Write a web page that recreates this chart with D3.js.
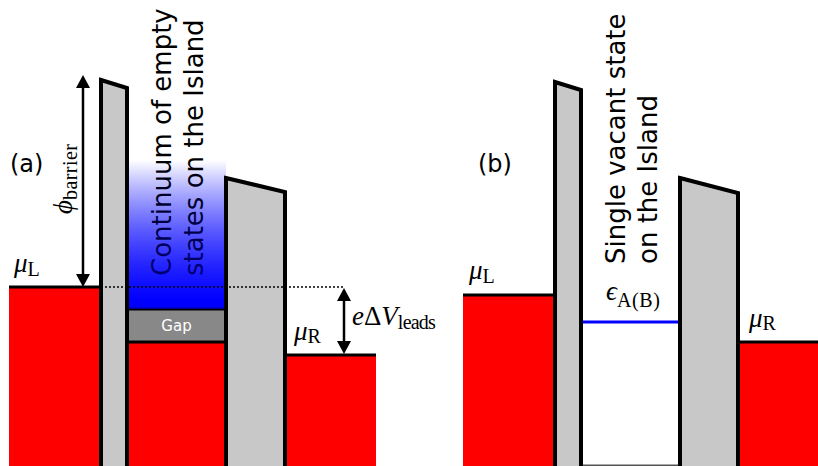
<!DOCTYPE html>
<html><head><meta charset="utf-8">
<script src="https://cdn.jsdelivr.net/npm/d3@7"></script>
<style>body{margin:0;background:#fff}svg{display:block}</style>
</head><body>
<script>
// ---- data (position units horizontally, energy units vertically) ----
const panelLabels = ["(a)", "(b)"];
const panelLabelX = [10, 478];
const leftLeadX = [[9, 101], [463, 555]];
const muL = [179, 171];
const leftBarrierX = [[101, 127], [555, 581]];
const leftBarrierTop = [[386, 378], [384, 376]];
const rightBarrierX = [[226, 285], [680, 738]];
const rightBarrierTop = [[288, 274], [288, 273]];
const rightLeadX = [[285, 376], [738, 820]];
const muR = [111, 124];
const gapBand = [124, 157];          // panel (a): superconducting gap
const continuumTop = 306;            // panel (a): top of continuum fade
const singleLevel = 144;             // panel (b): single vacant level
const phiArrow = {x: 83, top: 391};
const dVArrowX = 344;
const dottedEnd = 344;
const islandText = [["Continuum of empty", "states on the Island"], ["Single vacant state", "on the Island"]];
const islandTextPos = [[171, 276], [625, 264]];

const W = 818, H = 466;
const x = d3.scaleLinear().domain([0, W]).range([0, W]);
const y = d3.scaleLinear().domain([0, H]).range([H, 0]);
const bottom = y(-6);

const svg = d3.select("body").append("svg").attr("width", W).attr("height", H);
const defs = svg.append("defs");
const g1 = defs.append("linearGradient").attr("id", "cont").attr("x1", 0).attr("x2", 0).attr("y1", 0).attr("y2", 1);
g1.append("stop").attr("offset", "0%").attr("stop-color", "#fff");
g1.append("stop").attr("offset", "94%").attr("stop-color", "#0000ff");
g1.append("stop").attr("offset", "100%").attr("stop-color", "#0000ff");
const g2 = defs.append("linearGradient").attr("id", "contov").attr("x1", 0).attr("x2", 0).attr("y1", 0).attr("y2", 1);
g2.append("stop").attr("offset", "0%").attr("stop-color", "#0000ff").attr("stop-opacity", 0);
g2.append("stop").attr("offset", "100%").attr("stop-color", "#0000ff").attr("stop-opacity", 0.6);

const MATH = "'Liberation Serif', 'DejaVu Serif', serif";
const SANS = "'DejaVu Sans', sans-serif";

function mathLabel(px, py, parts) {
  const t = svg.append("text").attr("x", px).attr("y", py).attr("font-family", MATH).attr("fill", "#000");
  parts.forEach(p => {
    const s = t.append("tspan").text(p.t).attr("font-size", p.sub ? 20 : 27)
      .attr("font-style", p.it ? "italic" : "normal").attr("dy", p.dy || 0);
    if (p.len) s.attr("textLength", p.len).attr("lengthAdjust", "spacing");
  });
  return t;
}
function doubleArrow(ax, yTop, yBot) {
  const hl = 13, hw = 7;
  svg.append("line").attr("x1", ax).attr("x2", ax).attr("y1", yTop + hl - 1).attr("y2", yBot - hl + 1)
    .attr("stroke", "#000").attr("stroke-width", 2.5);
  svg.append("path").attr("d", `M${ax},${yTop} L${ax - hw},${yTop + hl} L${ax + hw},${yTop + hl} Z`).attr("fill", "#000");
  svg.append("path").attr("d", `M${ax},${yBot} L${ax - hw},${yBot - hl} L${ax + hw},${yBot - hl} Z`).attr("fill", "#000");
}

[0, 1].forEach(i => {
  // leads
  svg.append("rect").attr("x", x(leftLeadX[i][0])).attr("y", y(muL[i]))
    .attr("width", x(leftLeadX[i][1]) - x(leftLeadX[i][0])).attr("height", bottom - y(muL[i])).attr("fill", "#ff0000");
  svg.append("line").attr("x1", x(leftLeadX[i][0])).attr("x2", x(leftLeadX[i][1])).attr("y1", y(muL[i])).attr("y2", y(muL[i]))
    .attr("stroke", "#000").attr("stroke-width", 3);
  svg.append("rect").attr("x", x(rightLeadX[i][0])).attr("y", y(muR[i]))
    .attr("width", x(rightLeadX[i][1]) - x(rightLeadX[i][0])).attr("height", bottom - y(muR[i])).attr("fill", "#ff0000");
  svg.append("line").attr("x1", x(rightLeadX[i][0])).attr("x2", x(rightLeadX[i][1])).attr("y1", y(muR[i])).attr("y2", y(muR[i]))
    .attr("stroke", "#000").attr("stroke-width", 3);
});

// island (a)
const ia0 = x(leftBarrierX[0][1]), ia1 = x(rightBarrierX[0][0]);
svg.append("rect").attr("x", ia0).attr("y", y(continuumTop)).attr("width", ia1 - ia0).attr("height", y(gapBand[1]) - y(continuumTop)).attr("fill", "url(#cont)");
svg.append("rect").attr("x", ia0).attr("y", y(gapBand[0])).attr("width", ia1 - ia0).attr("height", bottom - y(gapBand[0])).attr("fill", "#ff0000");
svg.append("rect").attr("x", ia0).attr("y", y(gapBand[1])).attr("width", ia1 - ia0).attr("height", y(gapBand[0]) - y(gapBand[1]))
  .attr("fill", "#888888").attr("stroke", "#000").attr("stroke-width", 3);
svg.append("text").attr("x", (ia0 + ia1) / 2).attr("y", (y(gapBand[0]) + y(gapBand[1])) / 2 + 5.5).attr("text-anchor", "middle")
  .attr("font-family", SANS).attr("font-size", 15).attr("fill", "#fff").text("Gap");

// island (b)
const ib0 = x(leftBarrierX[1][1]), ib1 = x(rightBarrierX[1][0]);
svg.append("line").attr("x1", ib0).attr("x2", ib1).attr("y1", y(singleLevel)).attr("y2", y(singleLevel)).attr("stroke", "#0000ff").attr("stroke-width", 3);
svg.append("line").attr("x1", ib0).attr("x2", ib1).attr("y1", H).attr("y2", H).attr("stroke", "#555").attr("stroke-width", 3);

// island texts
[0, 1].forEach(i => {
  const t = svg.append("text").attr("transform", `translate(${islandTextPos[i][0]},${islandTextPos[i][1]}) rotate(-90)`)
    .attr("font-family", SANS).attr("font-size", 26).attr("fill", "#000");
  islandText[i].forEach((s, k) => t.append("tspan").attr("x", 0).attr("dy", k === 0 ? 0 : 32).text(s));
});
// overlay tint on continuum
svg.append("rect").attr("x", ia0).attr("y", y(continuumTop)).attr("width", ia1 - ia0).attr("height", y(gapBand[1]) - y(continuumTop)).attr("fill", "url(#contov)");

// barriers
[0, 1].forEach(i => {
  const lb = [[leftBarrierX[i][0], leftBarrierTop[i][0]], [leftBarrierX[i][1], leftBarrierTop[i][1]], [leftBarrierX[i][1], -6], [leftBarrierX[i][0], -6]];
  const rb = [[rightBarrierX[i][0], rightBarrierTop[i][0]], [rightBarrierX[i][1], rightBarrierTop[i][1]], [rightBarrierX[i][1], -6], [rightBarrierX[i][0], -6]];
  [lb, rb].forEach(pts => {
    svg.append("path").attr("d", d3.line().x(d => x(d[0])).y(d => y(d[1]))(pts) + "Z")
      .attr("fill", "#c8c8c8").attr("stroke", "#000").attr("stroke-width", 4).attr("stroke-linejoin", "miter");
  });
});

// dotted line at mu_L in (a)
svg.append("line").attr("x1", x(leftLeadX[0][1])).attr("x2", x(dottedEnd)).attr("y1", y(muL[0])).attr("y2", y(muL[0]))
  .attr("stroke", "#000").attr("stroke-width", 1.5).attr("stroke-dasharray", "2,2");

// arrows
doubleArrow(x(phiArrow.x), y(phiArrow.top), y(muL[0]));
doubleArrow(x(dVArrowX), y(muL[0]) + 1, y(muR[0]) - 1);

// panel labels
panelLabels.forEach((s, i) => svg.append("text").attr("x", panelLabelX[i]).attr("y", 172)
  .attr("font-family", SANS).attr("font-size", 24).attr("fill", "#000").text(s));

// math labels
mathLabel(14, 272, [{t: "μ", it: true}, {t: "L", sub: true, dy: 4}]);
mathLabel(469, 279, [{t: "μ", it: true}, {t: "L", sub: true, dy: 4}]);
mathLabel(294, 340, [{t: "μ", it: true}, {t: "R", sub: true, dy: 3}]);
mathLabel(749, 327, [{t: "μ", it: true}, {t: "R", sub: true, dy: 3}]);
mathLabel(606, 300, [{t: "ϵ", it: true}, {t: "A(B)", sub: true, dy: 7, len: 43}]);
mathLabel(352, 325, [{t: "e", it: true}, {t: "Δ"}, {t: "V", it: true}, {t: "leads", sub: true, dy: 4, len: 38}]);
const phi = mathLabel(0, 0, [{t: "ϕ", it: true}, {t: "barrier", sub: true, dy: 5, len: 56}]);
phi.attr("transform", "translate(72,214) rotate(-90)");
</script>
</body></html>
